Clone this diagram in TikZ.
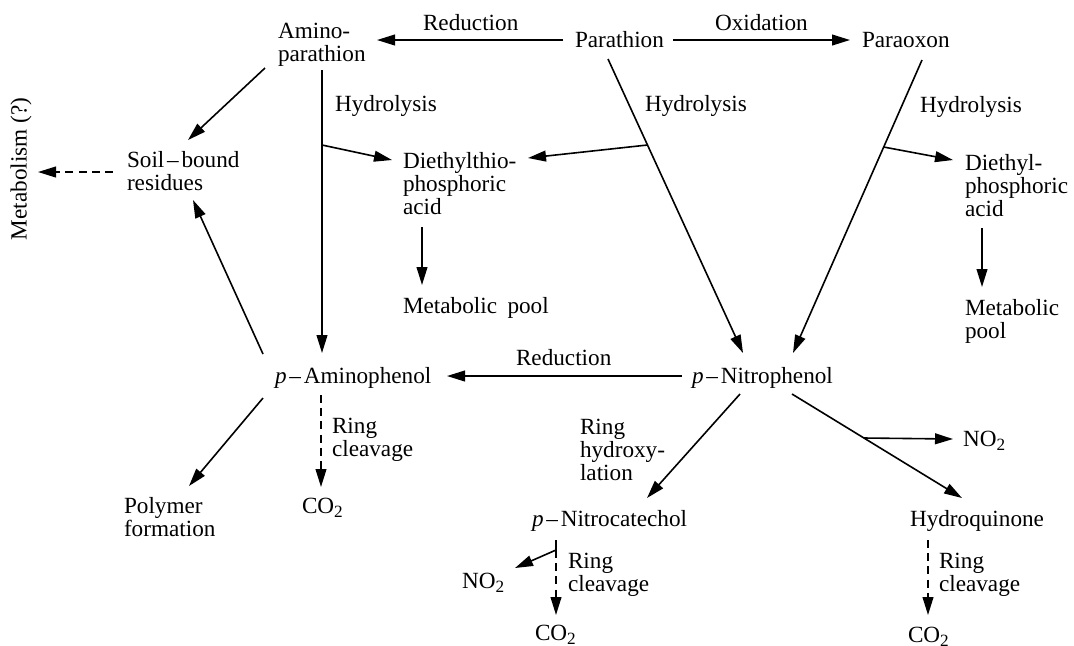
\documentclass[tikz,border=0pt]{standalone}
\usepackage{fontspec}
\setmainfont{Liberation Serif}
\usetikzlibrary{arrows.meta,calc}
% short dash used in compound names
\newcommand\ldash{\kern.12em--\kern.12em}
% multi-line label whose base is the first line
\newcommand\stack[1]{\begin{tabular}[t]{@{}l@{}}#1\end{tabular}}
% chemical subscript
\newcommand\chemsub[1]{\raisebox{-0.45ex}{\fontsize{8.6}{8.6}\selectfont #1}}
\begin{document}
\begin{tikzpicture}[x=0.5pt,y=-0.5pt,
  every node/.style={inner sep=0pt,outer sep=0pt,anchor=base west,
    font=\fontsize{11.6}{11.6}\selectfont},
  conn/.style={line width=0.8pt,-{Triangle[length=9pt,width=5.4pt]}},
  plain/.style={line width=0.8pt},
  dashconn/.style={conn,dash pattern=on 4pt off 2.6pt}]
\useasboundingbox (0,0) rectangle (1074,645);

% compounds and reaction labels
\node (amino) at (278,38) {\stack{Amino-\\parathion}};
\node (redtop) at (423,30) {Reduction};
\node (parathion) at (575,47) {Parathion};
\node (oxid) at (715,30) {Oxidation};
\node (paraoxon) at (862,47) {Paraoxon};
\node (hyd1) at (335,111) {Hydrolysis};
\node (hyd2) at (645,111) {Hydrolysis};
\node (hyd3) at (920,112) {Hydrolysis};
\node (soil) at (127,167) {\stack{Soil\ldash bound\\residues}};
\node[anchor=center,rotate=90] (metab) at (21,169) {Metabolism (?)};
\node (dthio) at (403,168) {\stack{Diethylthio-\\phosphoric\\acid}};
\node (dphos) at (965,170) {\stack{Diethyl-\\phosphoric\\acid}};
\node (pool1) at (403,313) {Metabolic\hspace{0.45em}pool};
\node (pool2) at (965,315) {\stack{Metabolic\\pool}};
\node (aminoph) at (275,383) {\textit{p}\ldash Aminophenol};
\node (redmid) at (516,365) {Reduction};
\node (nitroph) at (692,383) {\textit{p}\ldash Nitrophenol};
\node (ring1) at (332,433) {\stack{Ring\\cleavage}};
\node (co2a) at (302,513) {CO\chemsub{2}};
\node (polymer) at (124,513) {\stack{Polymer\\formation}};
\node (ringhyd) at (580,434) {\stack{Ring\\hydroxy-\\lation}};
\node (no2a) at (963,446) {NO\chemsub{2}};
\node (nitrocat) at (532,526) {\textit{p}\ldash Nitrocatechol};
\node (hydroq) at (910,526) {Hydroquinone};
\node (no2b) at (462,588) {NO\chemsub{2}};
\node (ring2) at (568,568) {\stack{Ring\\cleavage}};
\node (co2b) at (535,640) {CO\chemsub{2}};
\node (ring3) at (939,568) {\stack{Ring\\cleavage}};
\node (co2c) at (908,642) {CO\chemsub{2}};

% top row: reduction and oxidation of parathion
\draw[conn] ([shift={(-12,-7)}]parathion.base west) -- ([shift={(99,2)}]amino.base west);
\draw[conn] ([shift={(98,-7)}]parathion.base west) -- ([shift={(-12,-7)}]paraoxon.base west);

% aminoparathion branches
\draw[conn] ([shift={(-13,30)}]amino.base west) -- ([shift={(61,-27)}]soil.base west);
\draw[conn] ([shift={(44,32)}]amino.base west) -- ([shift={(47,-30)}]aminoph.base west);
\coordinate (brA) at ([shift={(44,107)}]amino.base west);
\draw[conn] (brA) -- ([shift={(-11,-8)}]dthio.base west);

% parathion hydrolysis
\coordinate (pa1) at ([shift={(33,12)}]parathion.base west);
\coordinate (pa2) at ([shift={(51,-30)}]nitroph.base west);
\draw[conn] (pa1) -- (pa2);
\draw[conn] ($(pa1)!0.2925!(pa2)$) -- ([shift={(125,-10)}]dthio.base west);

% paraoxon hydrolysis
\coordinate (po1) at ([shift={(60,13)}]paraoxon.base west);
\coordinate (po2) at ([shift={(101,-30)}]nitroph.base west);
\draw[conn] (po1) -- (po2);
\draw[conn] ($(po1)!0.297!(po2)$) -- ([shift={(-12,-10)}]dphos.base west);

% acids into the metabolic pool
\draw[conn] ([shift={(19,59)}]dthio.base west) -- ([shift={(19,-28)}]pool1.base west);
\draw[conn] ([shift={(17,58)}]dphos.base west) -- ([shift={(17,-28)}]pool2.base west);

% soil-bound residues
\draw[dashconn] ([shift={(-14,5)}]soil.base west) -- ([shift={(17,3)}]metab.center);

% p-nitrophenol reduction and p-aminophenol fate
\draw[conn] ([shift={(-10,-7)}]nitroph.base west) -- ([shift={(172,-7)}]aminoph.base west);
\draw[conn] ([shift={(-12,-29)}]aminoph.base west) -- ([shift={(66,33)}]soil.base west);
\draw[conn] ([shift={(-12,15)}]aminoph.base west) -- ([shift={(65,-27)}]polymer.base west);
\draw[dashconn] ([shift={(46,12)}]aminoph.base west) -- ([shift={(19,-26)}]co2a.base west);

% p-nitrophenol degradation
\draw[conn] ([shift={(48,11)}]nitroph.base west) -- ([shift={(115,-28)}]nitrocat.base west);
\coordinate (np1) at ([shift={(100,11)}]nitroph.base west);
\coordinate (np2) at ([shift={(52,-28)}]hydroq.base west);
\draw[conn] (np1) -- (np2);
\draw[conn] ($(np1)!0.423!(np2)$) -- ([shift={(-10,-7)}]no2a.base west);

% p-nitrocatechol
\coordinate (nc) at ([shift={(24,24)}]nitrocat.base west);
\draw[plain] ([shift={(24,14)}]nitrocat.base west) -- (nc);
\draw[conn] (nc) -- ([shift={(53,-20)}]no2b.base west);
\draw[dashconn] (nc) -- ([shift={(21,-25)}]co2b.base west);

% hydroquinone
\draw[dashconn] ([shift={(18,14)}]hydroq.base west) -- ([shift={(20,-27)}]co2c.base west);
\end{tikzpicture}
\end{document}
